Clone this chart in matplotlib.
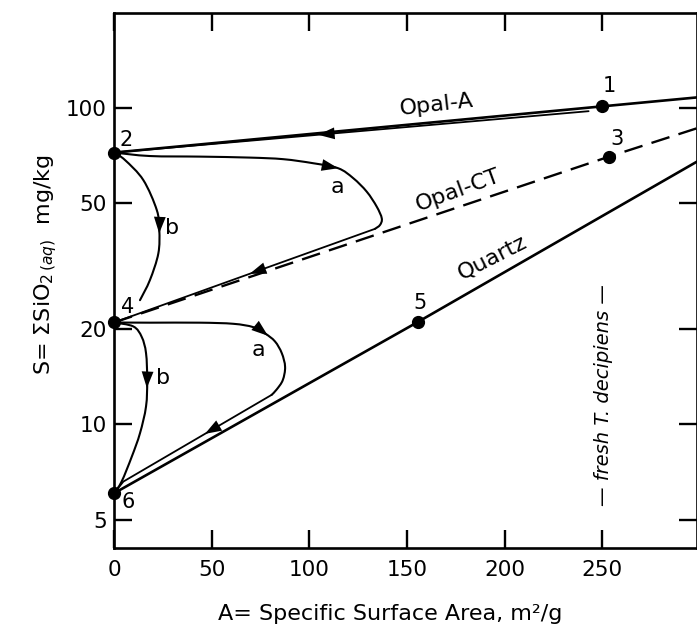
import numpy as np
import matplotlib
matplotlib.use('Agg')
import matplotlib.pyplot as plt
from matplotlib.ticker import FixedLocator, NullLocator, FixedFormatter
from matplotlib.path import Path
from matplotlib.patches import PathPatch

# ---------------- data ----------------
x_ticks = [0, 50, 100, 150, 200, 250]
y_ticks = [5, 10, 20, 50, 100]
y_tick_labels = ['5', '10', '20', '50', '100']

opalA_x = [0, 250, 298.5]
opalA_y = [72.3, 101.2, 108]
opalA_ret_x = [243, 0]
opalA_ret_y = [97.7, 72.3]

opalCT_x = [0, 253.5, 298.5]
opalCT_y = [21.0, 70.2, 86.3]

quartz_x = [0, 155.7, 298.5]
quartz_y = [6.06, 21.1, 67.7]

upper_a_x = [0, 18.4, 44.0, 69.6, 86.7, 102.0, 114.8, 122.5, 129.4, 134.5, 137.1, 136.2, 133.6]
upper_a_y = [72.3, 70.5, 70.2, 69.7, 68.9, 66.9, 64.5, 60.0, 54.4, 48.8, 44.8, 42.7, 41.5]
upper_ret_x = [133.6, 0]
upper_ret_y = [41.5, 21.0]

upper_b_x = [0, 5.6, 15.0, 21.9, 23.2, 22.7, 18.4, 13.3]
upper_b_y = [72.3, 68.5, 59.2, 47.6, 41.2, 34.7, 28.6, 24.7]

lower_a_x = [0, 18.4, 44.0, 61.1, 71.3, 77.3, 82.4, 85.9, 87.6, 86.4, 83.3, 80.7]
lower_a_y = [21.0, 20.97, 20.97, 20.8, 20.3, 19.4, 18.3, 16.8, 15.2, 13.8, 12.9, 12.4]
lower_ret_x = [80.7, 4.8, 0]
lower_ret_y = [12.4, 6.6, 6.06]

lower_b_x = [0, 9.9, 14.2, 16.4, 17.0, 16.4, 13.3, 9.1, 3.9, 0]
lower_b_y = [21.0, 20.4, 18.9, 16.8, 13.8, 11.4, 9.38, 7.91, 6.60, 6.06]

pts_x = [250, 0, 253.5, 0, 155.7, 0]
pts_y = [101.2, 72.3, 70.2, 21.0, 21.1, 6.06]
pts_lab = ['1', '2', '3', '4', '5', '6']

# ---------------- figure ----------------
plt.rcParams['font.family'] = ['DejaVu Sans']
W, H = 697, 633
fig = plt.figure(figsize=(W / 100, H / 100), dpi=100)
fig.patch.set_facecolor('white')
ax = fig.add_axes([114 / W, (H - 548) / H, (W - 114) / W, (548 - 13) / H])
ax.set_yscale('log')
ax.set_xlim(0, 298.5)
ax.set_ylim(4.07, 199.6)

for s in ax.spines.values():
    s.set_linewidth(1.9)

ax.xaxis.set_major_locator(FixedLocator(x_ticks))
ax.yaxis.set_major_locator(FixedLocator(y_ticks))
ax.yaxis.set_major_formatter(FixedFormatter(y_tick_labels))
ax.yaxis.set_minor_locator(NullLocator())
ax.xaxis.set_minor_locator(NullLocator())
ax.tick_params(axis='both', which='major', direction='in', length=13, width=1.7,
               top=True, right=True, labelsize=15.5, color='k')
ax.tick_params(axis='x', pad=9)
ax.tick_params(axis='y', pad=5)

fig.canvas.draw()


def smooth(xs, ys, lw=1.5):
    """Draw a smooth (Catmull-Rom / cubic Bezier) curve through the read points,
    in (x, log y) space so it follows the log axis."""
    P = np.column_stack([np.asarray(xs, float), np.log10(np.asarray(ys, float))])
    n = len(P)
    Pe = np.vstack([P[0], P, P[-1]])
    verts = [P[0]]
    codes = [Path.MOVETO]
    for i in range(n - 1):
        p0, p1, p2, p3 = Pe[i], Pe[i + 1], Pe[i + 2], Pe[i + 3]
        c1 = p1 + (p2 - p0) / 6.0
        c2 = p2 - (p3 - p1) / 6.0
        verts += [c1, c2, p2]
        codes += [Path.CURVE4] * 3
    V = np.array(verts)
    V[:, 1] = 10 ** V[:, 1]
    ax.add_patch(PathPatch(Path(V, codes), fill=False, lw=lw, edgecolor='k',
                           capstyle='round', joinstyle='round'))


def head(xs, ys, i, frac, size=17):
    tr = ax.transData
    p0 = tr.transform((xs[i], ys[i]))
    p1 = tr.transform((xs[i + 1], ys[i + 1]))
    d = p1 - p0
    u = d / np.hypot(*d)
    tip = tr.inverted().transform(p0 + frac * d)
    ax.annotate('', xy=tuple(tip), xytext=(-size * u[0], -size * u[1]),
                textcoords='offset pixels',
                arrowprops=dict(arrowstyle='-|>,head_length=0.7,head_width=0.25',
                                color='k', lw=0, shrinkA=0, shrinkB=0,
                                mutation_scale=size), zorder=5)


kw_main = dict(color='k', lw=1.9, solid_capstyle='round')
kw_thin = dict(color='k', lw=1.3, solid_capstyle='round')

ax.plot(opalA_x, opalA_y, **kw_main)
ax.plot(opalA_ret_x, opalA_ret_y, **kw_thin)
ax.plot(opalCT_x, opalCT_y, color='k', lw=1.7, linestyle=(0, (8, 4)))
ax.plot(quartz_x, quartz_y, **kw_main)

smooth(upper_a_x, upper_a_y)
ax.plot(upper_ret_x, upper_ret_y, **kw_thin)
smooth(upper_b_x, upper_b_y)
smooth(lower_a_x, lower_a_y)
ax.plot(lower_ret_x, lower_ret_y, **kw_thin)
smooth(lower_b_x, lower_b_y)

ax.plot(pts_x, pts_y, 'o', color='k', ms=8.5, zorder=6, clip_on=False)

# arrow heads
head(opalA_ret_x, opalA_ret_y, 0, 0.57)
head(upper_ret_x, upper_ret_y, 0, 0.48)
head(upper_a_x, upper_a_y, 5, 1.0)
head(upper_b_x, upper_b_y, 4, 0.15)
head(lower_a_x, lower_a_y, 5, 0.3)
head(lower_b_x, lower_b_y, 4, 0.3)
head(lower_ret_x, lower_ret_y, 0, 0.45)

# point labels
offs = [(5, 14.4), (9, 9), (5.5, 13), (10, 11.5), (1.5, 13.5), (10, -6)]
for x, y, t, o in zip(pts_x, pts_y, pts_lab, offs):
    ax.annotate(t, (x, y), xytext=o, textcoords='offset points',
                ha='center', va='center', fontsize=15)

# curve labels
ax.text(114.2, 56.3, 'a', fontsize=16, ha='center', va='center')
ax.text(29.5, 41.7, 'b', fontsize=16, ha='center', va='center')
ax.text(73.9, 17.2, 'a', fontsize=16, ha='center', va='center')
ax.text(25.2, 14.0, 'b', fontsize=16, ha='center', va='center')

ax.text(165.4, 102.2, 'Opal-A', fontsize=16, rotation=6.5, ha='center', va='center')
ax.text(176.1, 55.1, 'Opal-CT', fontsize=16, rotation=20, ha='center', va='center')
ax.text(193.5, 33.6, 'Quartz', fontsize=16, rotation=27, ha='center', va='center')

ax.text(250.4, 12.4, '— fresh T. decipiens —', fontsize=14, style='italic',
        rotation=90, ha='center', va='center')

fig.text(390 / W, 1 - 614 / H, 'A= Specific Surface Area, m²/g', fontsize=16,
         ha='center', va='center')
fig.text(46 / W, 1 - 265 / H, r'S= $\Sigma$SiO$_{2\,(aq)}$  mg/kg', fontsize=16,
         rotation=90, ha='center', va='center')

fig.savefig('out.png', dpi=100, facecolor='white')
